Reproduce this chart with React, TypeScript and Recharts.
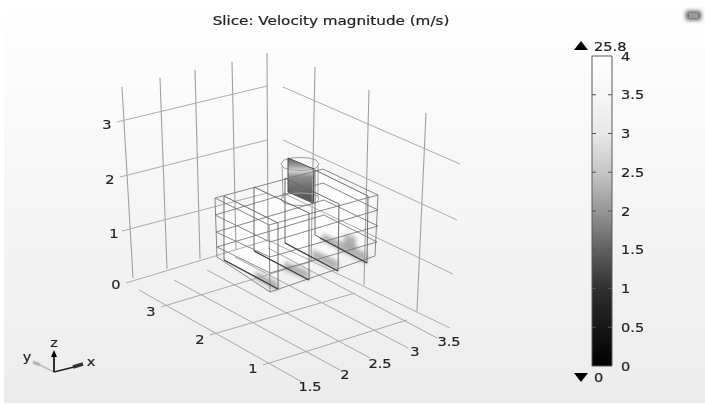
import React from 'react';
import { ComposedChart, Area, Line, XAxis, YAxis, ReferenceDot } from 'recharts';

// picture-space polylines, flat x,y lists, because the source is a 3d view
const wallVerticals = [
  [122, 87, 133, 278], [160, 78, 167, 269], [195, 70, 200, 259], [232, 62, 236, 250], [267, 53, 268, 240],
  [315, 67, 311, 262], [369, 90, 364, 285], [426, 113, 417, 311],
];
const wallRungs = [
  [117, 122, 267, 86], [120, 177, 267, 140], [122, 231, 267, 193], [126, 283, 268, 240],
  [283, 87, 460, 164], [283, 140, 457, 220], [283, 193, 453, 274], [268, 240, 450, 328],
];
const floorLines = [
  [139, 290, 302, 382], [174, 280, 340, 370], [207, 270, 370, 358], [235, 257, 408, 348], [268, 248, 437, 338],
  [161, 307, 310, 262], [210, 335, 355, 293], [263, 365, 407, 320],
];
const boxLines = [
  [215, 198, 269, 225, 378, 195, 323, 169, 215, 198],
  [215, 215, 270, 242, 378, 210, 323, 183, 215, 215],
  [216, 232, 270, 257, 378, 226, 324, 200, 216, 232],
  [217, 247, 270, 273, 377, 242, 324, 215, 217, 247],
  [217, 257, 270, 292, 375, 256],
  [215, 198, 217, 257], [269, 225, 270, 292], [378, 195, 375, 256],
];
const sliceLines = [
  [224, 196, 278, 223, 278, 289, 224, 260, 224, 196],
  [254, 187, 309, 213, 309, 280, 254, 251, 254, 187],
  [285, 178, 339, 204, 338, 271, 285, 243, 285, 178],
  [315, 170, 368, 196, 367, 263, 315, 235, 315, 170],
];
const sliceFloors = [
  [224, 260, 278, 289], [254, 251, 309, 280], [285, 243, 338, 271], [320, 238, 367, 263],
];
const cylinderLines = [
  [281, 164, 284, 160, 291, 158, 300, 157.5, 309, 158, 316, 160, 319, 164, 316, 168, 309, 170, 300, 170.5, 291, 170, 284, 168, 281, 164],
  [281, 199, 284, 195, 291, 193.5, 300, 193, 309, 193.5, 316, 195, 319, 199, 316, 203, 309, 205, 300, 205.5, 291, 205, 284, 203, 281, 199],
  [282, 166, 283, 198], [318, 166, 318, 198],
];
const coreEdges = [[288, 158, 314, 169, 313, 203, 288, 192, 288, 158]];

// x, low, high rows for filled parts
const sliceFaces = [
  [[224, 196, 260], [278, 223, 289]],
  [[254, 187, 251], [309, 213, 280]],
  [[285, 178, 243], [339, 204, 271]],
  [[315, 170, 235], [368, 196, 263]],
];
const coreFace = [[288, 158, 192], [314, 169, 203]];
const smudges = [
  [[255, 271, 279], [278, 282, 291]],
  [[284, 261, 270], [309, 271, 280]],
  [[312, 249, 258], [338, 261, 271]],
  [[322, 233, 241], [367, 253, 264]],
  [[344, 234, 245], [356, 237, 250]],
];

const axisTickLabels = [
  { text: '0', x: 116, y: 284 }, { text: '1', x: 114, y: 233 }, { text: '2', x: 110, y: 179 }, { text: '3', x: 107, y: 124 },
  { text: '3', x: 151, y: 311 }, { text: '2', x: 200, y: 339 }, { text: '1', x: 253, y: 368 },
  { text: '1.5', x: 310, y: 386 }, { text: '2', x: 345, y: 374 }, { text: '2.5', x: 380, y: 363 }, { text: '3', x: 415, y: 351 }, { text: '3.5', x: 449, y: 341 },
  { text: 'z', x: 54, y: 342 }, { text: 'x', x: 91, y: 361 }, { text: 'y', x: 27, y: 356 },
];
const colorTicks = [0, 0.5, 1, 1.5, 2, 2.5, 3, 3.5, 4];
const colorStops = [
  ['0%', '#ffffff'], ['12%', '#f6f6f6'], ['25%', '#e8e8e8'], ['38%', '#c4c4c4'], ['50%', '#969696'],
  ['62%', '#626262'], ['75%', '#303030'], ['88%', '#151515'], ['100%', '#000000'],
];

const toRows = (lines: number[][]) =>
  lines.flatMap((l) => {
    const rows: { x: number; y: number | null }[] = [];
    for (let i = 0; i < l.length; i += 2) rows.push({ x: l[i], y: l[i + 1] });
    rows.push({ x: l[l.length - 2], y: null });
    return rows;
  });
const toBand = (face: number[][]) => face.map(([x, a, b]) => ({ x, band: [a, b] }));

const Label = ({ cx, cy, text, size = 13, stretch = 1.12, anchor = 'middle', color = '#222' }: any) => (
  <text
    transform={`translate(${cx},${cy}) scale(${stretch},1)`}
    textAnchor={anchor}
    dominantBaseline="central"
    fontFamily="DejaVu Sans"
    fontSize={size}
    fill={color}
    stroke={color}
    strokeWidth={0.2}
  >
    {text}
  </text>
);

const wire = (key: string, lines: number[][], color: string, w = 1) => (
  <Line
    key={key}
    data={toRows(lines)}
    dataKey="y"
    type="linear"
    stroke={color}
    strokeWidth={w}
    dot={false}
    activeDot={false}
    connectNulls={false}
    isAnimationActive={false}
  />
);

const band = (key: string, face: number[][], fill: string, opacity = 1, extra: any = {}) => (
  <Area
    key={key}
    data={toBand(face)}
    dataKey="band"
    type="linear"
    stroke="none"
    fill={fill}
    fillOpacity={opacity}
    dot={false}
    activeDot={false}
    isAnimationActive={false}
    {...extra}
  />
);

export default function App() {
  return (
    <div style={{ position: 'absolute', left: 0, top: 0, width: 705, height: 405, filter: 'blur(0.4px)' }}>
      <ComposedChart width={705} height={405} margin={{ top: 0, right: 0, bottom: 0, left: 0 }}>
        <defs>
          <linearGradient id="bg" x1="0" y1="0" x2="0" y2="1">
            <stop offset="0%" stopColor="#ffffff" />
            <stop offset="100%" stopColor="#ececec" />
          </linearGradient>
          <linearGradient id="core" x1="0" y1="0" x2="0" y2="1">
            <stop offset="0%" stopColor="#626262" />
            <stop offset="18%" stopColor="#a0a0a0" />
            <stop offset="28%" stopColor="#dadada" />
            <stop offset="42%" stopColor="#8c8c8c" />
            <stop offset="70%" stopColor="#686868" />
            <stop offset="100%" stopColor="#555555" />
          </linearGradient>
          <linearGradient id="ramp" x1="0" y1="0" x2="0" y2="1">
            {colorStops.map(([o, c]) => (
              <stop key={o} offset={o} stopColor={c} />
            ))}
          </linearGradient>
          <filter id="soft" x="-40%" y="-40%" width="180%" height="180%">
            <feGaussianBlur stdDeviation="2" />
          </filter>
        </defs>
        <XAxis type="number" dataKey="x" domain={[0, 705]} hide allowDuplicatedCategory={false} />
        <YAxis yAxisId={0} type="number" domain={[0, 405]} reversed hide />
        <YAxis yAxisId="bar" type="number" domain={[-0.503, 4.7226]} hide />

        {band('bg', [[4, 0, 403], [705, 0, 403]], 'url(#bg)')}
        {wire('walls', wallVerticals, '#a0a0a0', 1.1)}
        {wire('rungs', wallRungs, '#acacac', 1)}
        {wire('floor', floorLines, '#a8a8a8', 1)}
        {sliceFaces.map((f, i) => band(`face${i}`, f, '#ffffff', 0.7))}
        {smudges.map((f, i) => band(`smudge${i}`, f, '#555555', 0.45, { filter: 'url(#soft)' }))}
        {wire('cyl', cylinderLines, '#a0a0a0', 1)}
        {band('core', coreFace, 'url(#core)')}
        {wire('coreEdge', coreEdges, '#4a4a4a', 1)}
        {wire('box', boxLines, '#7a7a7a', 0.9)}
        {wire('slices', sliceLines, '#6a6a6a', 1)}
        {wire('sliceFloors', sliceFloors, '#444444', 1.2)}

        {/* color legend */}
        <Area
          yAxisId="bar"
          data={[{ x: 592, band: [0, 4] }, { x: 612, band: [0, 4] }]}
          dataKey="band"
          type="linear"
          stroke="none"
          fill="url(#ramp)"
          fillOpacity={1}
          dot={false}
          activeDot={false}
          isAnimationActive={false}
        />
        <Line
          yAxisId="bar"
          data={[{ x: 592, v: 0 }, { x: 592, v: 4 }, { x: 612, v: 4 }, { x: 612, v: 0 }, { x: 592, v: 0 }]}
          dataKey="v"
          type="linear"
          stroke="#5a5a5a"
          strokeWidth={1}
          dot={false}
          activeDot={false}
          isAnimationActive={false}
        />
        {colorTicks.slice(1, -1).map((t) => (
          <Line
            key={t}
            yAxisId="bar"
            data={[{ x: 592, v: t }, { x: 596, v: t }, { x: 596, v: null }, { x: 608, v: null }, { x: 608, v: t }, { x: 612, v: t }]}
            dataKey="v"
            stroke="#555555"
            strokeWidth={1}
            dot={false}
            activeDot={false}
            isAnimationActive={false}
          />
        ))}
        {band('maxArrow', [[574, 50, 50], [581, 41, 50], [588, 50, 50]], '#000000')}
        {band('minArrow', [[574, 373, 373], [581, 373, 382], [588, 373, 373]], '#000000')}

        {/* axis triad */}
        {wire('triadY', [[54, 372, 40, 365]], '#bdbdbd', 1.6)}
        {wire('triadYHead', [[40, 365, 33, 362]], '#b5b5b5', 3.5)}
        {wire('triadZ', [[54, 372, 54, 356]], '#000000', 1.6)}
        {band('triadZHead', [[51, 357, 357], [54, 350, 357], [57, 357, 357]], '#000000')}
        {wire('triadX', [[54, 372, 74, 367]], '#222222', 1.6)}
        {wire('triadXHead', [[73, 367, 83, 364]], '#333333', 3.5)}

        {/* export icon */}
        {band('iconOuter', [[686, 11, 20], [701, 11, 20]], '#444444', 0.9, { filter: 'url(#soft)' })}
        {band('iconInner', [[689, 13, 18], [698, 13, 18]], '#9a9a9a')}

        <ReferenceDot x={331} y={20} r={0} shape={(p: any) => <Label {...p} text="Slice: Velocity magnitude (m/s)" size={13} stretch={1.17} />} />
        <ReferenceDot x={594} y={46} r={0} shape={(p: any) => <Label {...p} text="25.8" anchor="start" />} />
        <ReferenceDot x={594} y={377} r={0} shape={(p: any) => <Label {...p} text="0" anchor="start" />} />
        {axisTickLabels.map((l) => (
          <ReferenceDot key={`${l.text}${l.x}`} x={l.x} y={l.y} r={0} shape={(p: any) => <Label {...p} text={l.text} />} />
        ))}
        {colorTicks.map((t) => (
          <ReferenceDot
            key={t}
            yAxisId="bar"
            x={621}
            y={t}
            r={0}
            shape={(p: any) => <Label {...p} text={String(t)} anchor="start" />}
          />
        ))}
      </ComposedChart>
    </div>
  );
}
